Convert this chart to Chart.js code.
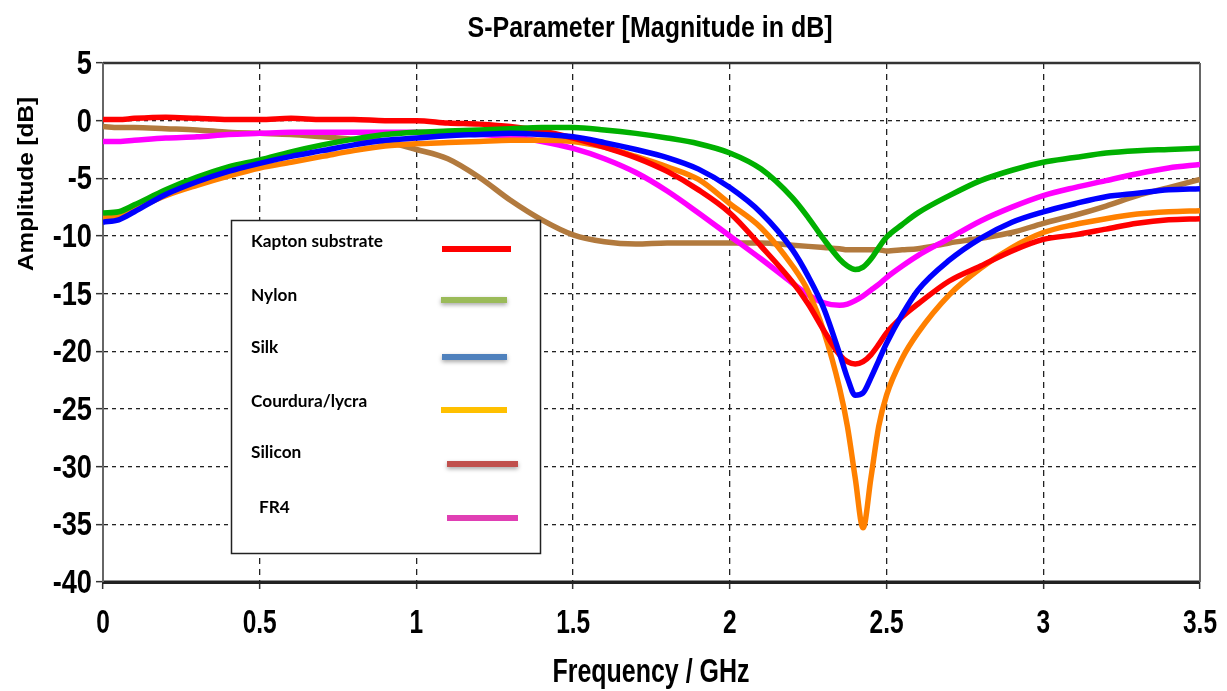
<!DOCTYPE html>
<html>
<head>
<meta charset="utf-8">
<script src="https://cdn.jsdelivr.net/npm/chart.js@4/dist/chart.umd.min.js"></script>
<style>
  html, body { margin: 0; padding: 0; background: #ffffff; }
  #wrap { width: 1227px; height: 691px; position: relative; }
</style>
</head>
<body>
<div id="wrap"><canvas id="c"></canvas></div>
<script>
// ---------------- data ----------------
const freq = [0, 0.05, 0.1, 0.2, 0.3, 0.4, 0.5, 0.6, 0.7, 0.8, 0.9, 1.0, 1.1, 1.2, 1.3, 1.4, 1.5, 1.6, 1.7, 1.8, 1.9, 2.0, 2.1, 2.2, 2.25, 2.3, 2.35, 2.375, 2.4, 2.425, 2.45, 2.475, 2.5, 2.55, 2.6, 2.7, 2.8, 2.9, 3.0, 3.1, 3.2, 3.3, 3.4, 3.5];

const kapton   = [0.1, 0.1, 0.2, 0.3, 0.2, 0.1, 0.1, 0.2, 0.1, 0.1, 0.0, 0.0, -0.2, -0.3, -0.5, -0.9, -1.5, -2.3, -3.2, -4.4, -6.0, -8.0, -10.9, -14.0, -15.9, -18.2, -20.3, -20.9, -21.1, -20.9, -20.3, -19.4, -18.4, -17.0, -15.9, -13.9, -12.6, -11.3, -10.3, -9.9, -9.4, -8.9, -8.6, -8.5];
const nylon    = [-8.0, -7.9, -7.3, -6.0, -4.9, -4.0, -3.4, -2.7, -2.1, -1.6, -1.2, -1.0, -0.9, -0.8, -0.7, -0.6, -0.6, -0.8, -1.1, -1.5, -2.0, -2.8, -4.2, -6.7, -8.4, -10.3, -12.0, -12.6, -12.9, -12.7, -12.0, -11.0, -10.1, -9.0, -8.0, -6.5, -5.2, -4.3, -3.6, -3.2, -2.8, -2.6, -2.5, -2.4];
const silk     = [-8.8, -8.6, -7.9, -6.4, -5.3, -4.4, -3.7, -3.1, -2.6, -2.1, -1.7, -1.5, -1.3, -1.2, -1.1, -1.2, -1.4, -1.9, -2.5, -3.2, -4.2, -5.8, -8.0, -11.2, -13.5, -16.3, -20.2, -22.3, -23.8, -23.6, -22.3, -20.8, -19.3, -16.8, -14.7, -12.1, -10.2, -8.8, -7.9, -7.2, -6.6, -6.3, -6.0, -5.9];
const courdura = [-8.4, -8.3, -7.7, -6.5, -5.6, -4.8, -4.1, -3.6, -3.1, -2.6, -2.2, -2.0, -1.9, -1.8, -1.7, -1.7, -1.8, -2.3, -3.1, -4.0, -5.1, -7.2, -9.3, -12.6, -14.8, -18.3, -23.2, -26.5, -31.0, -35.3, -31.0, -26.5, -23.8, -20.6, -18.4, -15.1, -12.8, -11.0, -9.7, -9.0, -8.5, -8.1, -7.9, -7.8];
const silicon  = [-0.5, -0.6, -0.6, -0.7, -0.8, -1.0, -1.1, -1.2, -1.4, -1.6, -1.8, -2.5, -3.3, -4.9, -6.9, -8.6, -9.9, -10.5, -10.7, -10.6, -10.6, -10.6, -10.6, -10.8, -10.9, -11.0, -11.1, -11.2, -11.2, -11.2, -11.2, -11.2, -11.3, -11.2, -11.1, -10.6, -10.2, -9.7, -8.9, -8.2, -7.4, -6.5, -5.8, -5.1];
const fr4      = [-1.8, -1.8, -1.7, -1.5, -1.4, -1.2, -1.1, -1.0, -1.0, -1.0, -1.0, -1.0, -1.1, -1.2, -1.4, -1.8, -2.4, -3.3, -4.5, -6.1, -8.0, -10.0, -12.0, -14.1, -15.1, -15.8, -16.0, -15.9, -15.6, -15.2, -14.7, -14.2, -13.6, -12.6, -11.7, -10.2, -8.7, -7.5, -6.5, -5.8, -5.2, -4.6, -4.1, -3.8];

const seriesNames  = ['Kapton substrate', 'Nylon', 'Silk', 'Courdura/lycra', 'Silicon', 'FR4'];
const lineColors   = ['#ff0000', '#00b000', '#0000ff', '#ff8000', '#b27a3e', '#ff00ff'];
const legendColors = ['#ff0000', '#9bbb59', '#4f81bd', '#ffc000', '#c0504d', '#e03fb4'];

const xTickValues = [0, 0.5, 1, 1.5, 2, 2.5, 3, 3.5];
const xTickLabels = ['0', '0.5', '1', '1.5', '2', '2.5', '3', '3.5'];
const yTickValues = [-40, -35, -30, -25, -20, -15, -10, -5, 0, 5];
const yTickLabels = ['-40', '-35', '-30', '-25', '-20', '-15', '-10', '-5', '0', '5'];

const chartTitle = 'S-Parameter [Magnitude in dB]';
const xTitle = 'Frequency / GHz';
const yTitle = 'Amplitude [dB]';

// ---------------- build ----------------
const allSeries = [kapton, nylon, silk, courdura, silicon, fr4];
const drawOrder = [3, 2, 1, 4, 6, 5]; // lower = on top
const datasets = allSeries.map((vals, i) => ({
  label: seriesNames[i],
  data: freq.map((f, k) => ({ x: f, y: vals[k] })),
  borderColor: lineColors[i],
  backgroundColor: lineColors[i],
  borderWidth: 5.5,
  pointRadius: 0,
  pointHoverRadius: 0,
  fill: false,
  cubicInterpolationMode: 'monotone',
  borderJoinStyle: 'round',
  order: drawOrder[i]
}));

const BOLD = '"Liberation Sans", Arial, sans-serif';

// draws text squeezed horizontally by factor sx (or to a target width)
function drawText(ctx, text, x, y, opts) {
  ctx.save();
  ctx.font = opts.font;
  const w = ctx.measureText(text).width;
  const sx = opts.width ? opts.width / w : (opts.sx || 1);
  ctx.translate(x, y);
  if (opts.rotate) ctx.rotate(-Math.PI / 2);
  ctx.scale(sx, 1);
  ctx.textAlign = opts.align || 'center';
  ctx.textBaseline = opts.baseline || 'alphabetic';
  ctx.fillStyle = '#000';
  ctx.fillText(text, 0, 0);
  ctx.restore();
}

const decorPlugin = {
  id: 'decor',
  beforeDatasetsDraw(chart) {
    const { ctx, chartArea: a } = chart;
    ctx.save();
    ctx.lineCap = 'butt';
    ctx.strokeStyle = '#333';
    ctx.lineWidth = 2.5;
    ctx.beginPath(); ctx.moveTo(a.left, a.top); ctx.lineTo(a.right, a.top); ctx.stroke();
    ctx.strokeStyle = '#222';
    ctx.lineWidth = 3;
    ctx.beginPath(); ctx.moveTo(a.left, a.bottom); ctx.lineTo(a.right, a.bottom); ctx.stroke();
    ctx.strokeStyle = '#666';
    ctx.lineWidth = 2;
    ctx.beginPath(); ctx.moveTo(a.left, a.top); ctx.lineTo(a.left, a.bottom); ctx.stroke();
    ctx.beginPath(); ctx.moveTo(a.right, a.top); ctx.lineTo(a.right, a.bottom); ctx.stroke();
    ctx.restore();
  },
  afterDraw(chart) {
    const { ctx, scales } = chart;
    // tick labels, placed by the library's scales
    const xs = scales.x, ys = scales.y;
    xs.ticks.forEach((t) => {
      const i = xTickValues.indexOf(t.value);
      if (i < 0) return;
      drawText(ctx, xTickLabels[i], xs.getPixelForValue(t.value), 633, { font: 'bold 34px ' + BOLD, sx: 0.72 });
    });
    ys.ticks.forEach((t) => {
      const i = yTickValues.indexOf(t.value);
      if (i < 0) return;
      drawText(ctx, yTickLabels[i], 92, ys.getPixelForValue(t.value) + 11, { font: 'bold 34px ' + BOLD, sx: 0.8, align: 'right' });
    });

    // titles
    drawText(ctx, chartTitle, 650, 37, { font: 'bold 30px ' + BOLD, width: 365 });
    drawText(ctx, xTitle, 651, 682, { font: 'bold 34px ' + BOLD, width: 197 });
    drawText(ctx, yTitle, 33, 184, { font: 'bold 22px ' + BOLD, width: 174, rotate: true });

    // legend box
    ctx.save();
    ctx.fillStyle = '#ffffff';
    ctx.fillRect(231, 220, 310, 333);
    ctx.strokeStyle = '#222';
    ctx.lineWidth = 1.5;
    ctx.strokeRect(231.5, 220.5, 309, 333);
    const rowY = [242, 296, 348, 402, 453, 508];
    const swY = [249, 300, 357, 410, 464, 518];
    const swX0 = [442, 441, 442, 441, 447, 447];
    const swX1 = [511, 507, 507, 507, 518, 518];
    const shadow = [false, true, true, false, true, false];
    ctx.font = 'bold 17px Lato, "Liberation Sans", sans-serif';
    const sx = 132 / ctx.measureText(seriesNames[0]).width;
    for (let i = 0; i < seriesNames.length; i++) {
      ctx.save();
      ctx.translate(251 + (i === 5 ? 8 : 0), rowY[i]);
      ctx.scale(sx, 1);
      ctx.fillStyle = '#000';
      ctx.textAlign = 'left';
      ctx.textBaseline = 'middle';
      ctx.fillText(seriesNames[i], 0, 0);
      ctx.restore();
      ctx.save();
      if (shadow[i]) {
        ctx.shadowColor = 'rgba(0,0,0,0.35)';
        ctx.shadowBlur = 4;
        ctx.shadowOffsetY = 2;
      }
      ctx.fillStyle = legendColors[i];
      ctx.fillRect(swX0[i], swY[i] - 3, swX1[i] - swX0[i], 6);
      ctx.restore();
    }
    ctx.restore();
  }
};

new Chart(document.getElementById('c'), {
  type: 'line',
  data: { datasets },
  options: {
    responsive: true,
    maintainAspectRatio: false,
    animation: false,
    layout: { padding: { top: 63, right: 27, left: 0, bottom: 0 } },
    plugins: {
      legend: { display: false },
      title: { display: false },
      tooltip: { enabled: false }
    },
    scales: {
      x: {
        type: 'linear',
        min: 0, max: 3.5,
        afterBuildTicks: (s) => { s.ticks = xTickValues.map(v => ({ value: v })); },
        afterFit: (s) => { s.height = 109; s.paddingLeft = 0; s.paddingRight = 0; },
        ticks: { display: false },
        grid: {
          color: '#222', lineWidth: 1.3,
          drawTicks: true, tickLength: 7, tickColor: '#333', tickWidth: 1.5, tickBorderDash: []
        },
        border: { display: true, color: '#222', width: 3, dash: [6, 5] }
      },
      y: {
        type: 'linear',
        min: -40, max: 5,
        afterBuildTicks: (s) => { s.ticks = yTickValues.map(v => ({ value: v })); },
        afterFit: (s) => { s.width = 103; s.paddingTop = 0; s.paddingBottom = 0; },
        ticks: { display: false },
        grid: {
          color: '#222', lineWidth: 1.3,
          drawTicks: true, tickLength: 7, tickColor: '#333', tickWidth: 1.5, tickBorderDash: []
        },
        border: { display: true, color: '#666', width: 2, dash: [4, 4] }
      }
    }
  },
  plugins: [decorPlugin]
});
</script>
</body>
</html>
